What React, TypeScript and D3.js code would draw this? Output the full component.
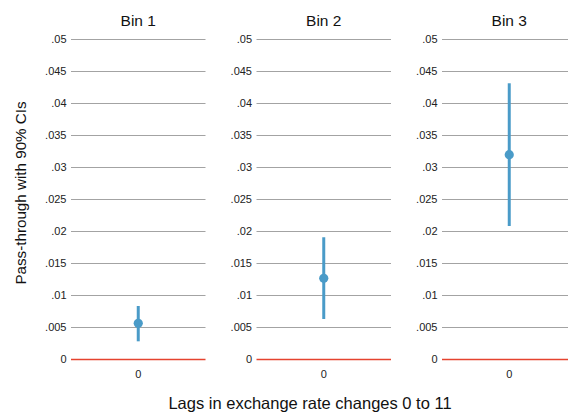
import React from "react";
import * as d3 from "d3";

const bins = ["Bin 1", "Bin 2", "Bin 3"];
const estimates = [0.00566, 0.01269, 0.032];
const ciLow = [0.00284, 0.00633, 0.02086];
const ciHigh = [0.00836, 0.0191, 0.04316];
const yTicks = [0, 0.005, 0.01, 0.015, 0.02, 0.025, 0.03, 0.035, 0.04, 0.045, 0.05];
const xTickLabels = ["0"];

const W = 568;
const H = 414;
const panelLefts = [71, 256.5, 442];
const panelWidth = 134.5;
const top = 39.5;
const bottom = 359.5;

const fmt = (v: number) => (v === 0 ? "0" : d3.format(".3~f")(v).replace(/^0/, ""));

export default function App() {
  const y = d3.scaleLinear().domain([0, 0.05]).range([bottom, top]);
  const font = "'Liberation Sans', Arial, sans-serif";
  const blue = "#4a9bc8";
  return (
    <svg width={W} height={H} style={{ position: "absolute", left: 0, top: 0, background: "#fff" }} fontFamily={font}>
      <rect width={W} height={H} fill="#fff" />
      {bins.map((b, i) => {
        const x = d3.scaleBand().domain(xTickLabels).range([panelLefts[i], panelLefts[i] + panelWidth]);
        const cx = (x("0") as number) + x.bandwidth() / 2;
        return (
          <g key={b}>
            <text x={cx} y={26} textAnchor="middle" fontSize={15.5} fill="#111">{b}</text>
            {yTicks.map((t) => (
              <g key={t}>
                <line
                  x1={panelLefts[i]}
                  x2={panelLefts[i] + panelWidth}
                  y1={y(t)}
                  y2={y(t)}
                  stroke={t === 0 ? "#e5432f" : "#a3a3a3"}
                  strokeWidth={t === 0 ? 1.4 : 1.2}
                />
                <text x={panelLefts[i] - 4.5} y={y(t)} dy="0.35em" textAnchor="end" fontSize={11} fill="#222">
                  {fmt(t)}
                </text>
              </g>
            ))}
            {xTickLabels.map((l) => (
              <text key={l} x={cx} y={378} textAnchor="middle" fontSize={11} fill="#222">{l}</text>
            ))}
            <line x1={cx} x2={cx} y1={y(ciLow[i])} y2={y(ciHigh[i])} stroke={blue} strokeWidth={3} />
            <circle cx={cx} cy={y(estimates[i])} r={4.6} fill={blue} />
          </g>
        );
      })}
      <text x={310} y={409} textAnchor="middle" fontSize={16.5} fill="#111">Lags in exchange rate changes 0 to 11</text>
      <text transform={`translate(26,193) rotate(-90)`} textAnchor="middle" fontSize={15.2} fill="#111">Pass-through with 90% CIs</text>
    </svg>
  );
}
